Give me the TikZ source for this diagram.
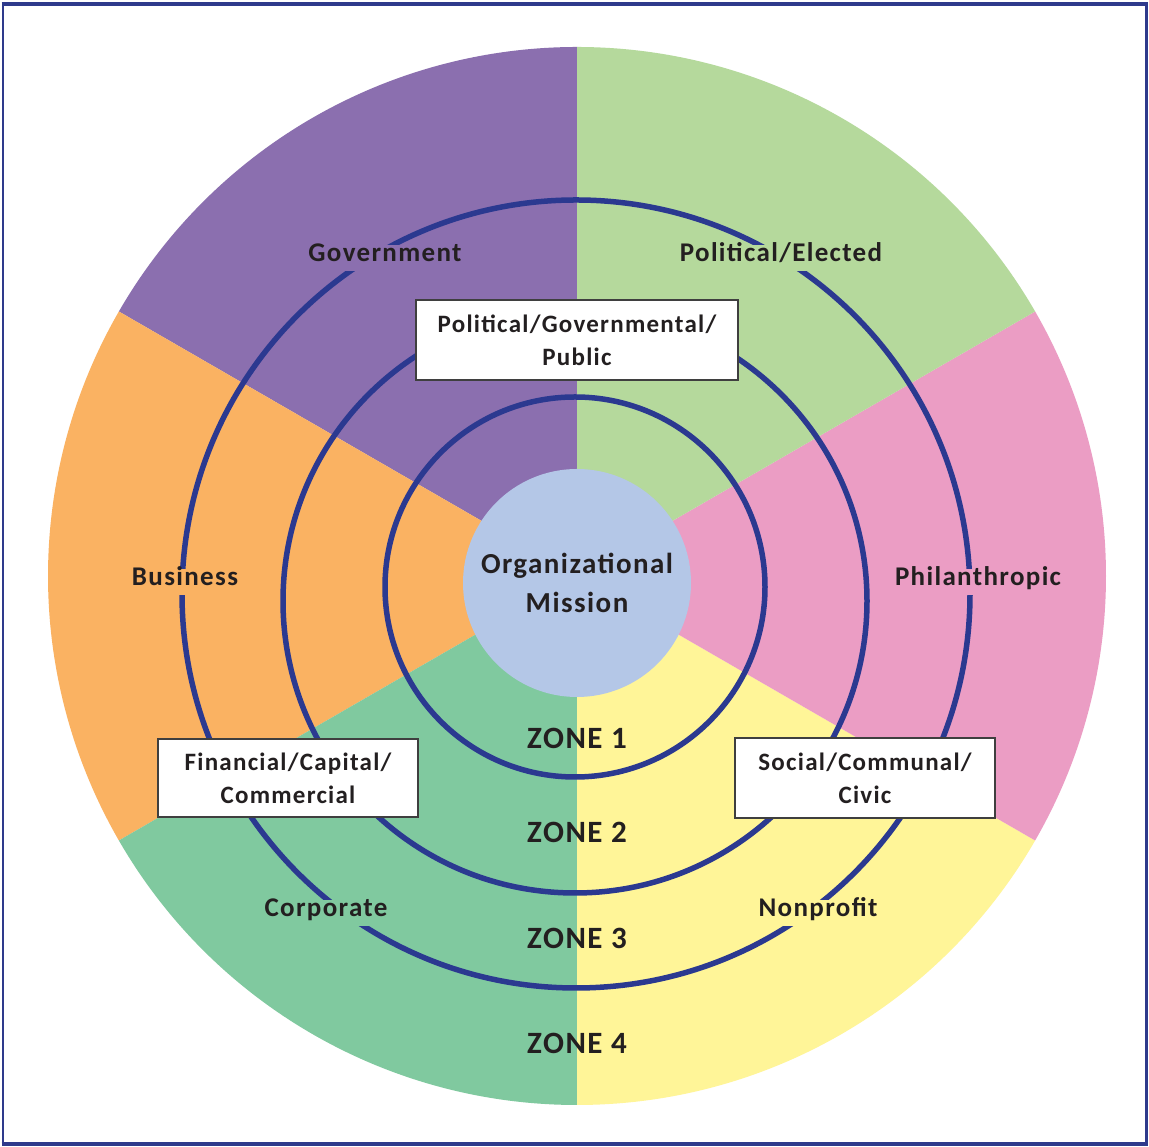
\documentclass[tikz,border=0pt]{standalone}
\usepackage{fontspec}
\setmainfont{Carlito}
\newfontfamily\labfont[LetterSpace=5]{Carlito}
\definecolor{cpurple}{HTML}{8B6FAF}
\definecolor{clgreen}{HTML}{B5D99C}
\definecolor{cpink}{HTML}{EB9DC4}
\definecolor{corange}{HTML}{FAB262}
\definecolor{cdgreen}{HTML}{80C99F}
\definecolor{cyellow}{HTML}{FFF598}
\definecolor{cblue}{HTML}{B4C7E7}
\definecolor{cring}{HTML}{2B3990}
\definecolor{cframe}{HTML}{2E3A8C}
\definecolor{ctext}{HTML}{231F20}
\definecolor{cbox}{HTML}{3F3F3F}
\begin{document}
\begin{tikzpicture}[x=1pt,y=1pt,
  ring/.style={draw=cring, line width=5.5pt},
  lab/.style={text=ctext, font=\labfont\bfseries\fontsize{27}{32}\selectfont, inner xsep=6pt, inner ysep=8pt, text height=0.8em, text depth=0.16em},
  box/.style={draw=cbox, line width=1.5pt, fill=white, align=center, text=ctext, font=\labfont\bfseries\fontsize{25}{33}\selectfont, inner sep=0pt},
  zone/.style={text=ctext, font=\labfont\bfseries\fontsize{31}{36}\selectfont, inner sep=0pt}]
\useasboundingbox (0,0) rectangle (1149,1147);
\fill[white] (0,0) rectangle (1149,1147);
\coordinate (C) at (577,571);
% sectors
\fill[cpurple] (C) -- ++(90:529) arc[start angle=90,end angle=150,radius=529] -- cycle;
\fill[corange] (C) -- ++(150:529) arc[start angle=150,end angle=210,radius=529] -- cycle;
\fill[cdgreen] (C) -- ++(210:529) arc[start angle=210,end angle=270,radius=529] -- cycle;
\fill[cyellow] (C) -- ++(270:529) arc[start angle=270,end angle=330,radius=529] -- cycle;
\fill[cpink] (C) -- ++(-30:529) arc[start angle=-30,end angle=30,radius=529] -- cycle;
\fill[clgreen] (C) -- ++(30:529) arc[start angle=30,end angle=90,radius=529] -- cycle;
% rings
\draw[ring] (575,560) circle[radius=190];
\draw[ring] (575,546) circle[radius=292];
\draw[ring] (576,553) circle[radius=394];
% ring labels
\node[lab, fill=cpurple] (gov) at (385,889) {Government};
\node[lab, fill=clgreen] (pol) at (781,889) {Political/Elected};
\node[lab, fill=corange] (bus) at (185,565) {Business};
\node[lab, fill=cpink] (phi) at (978,565) {Philanthropic};
\node[lab, fill=cdgreen] (cor) at (326,234) {Corporate};
\node[lab, fill=cyellow] (non) at (818,234) {Nonprofit};
% center
\node[circle, fill=cblue, minimum size=228pt, inner sep=0pt, align=center, text=ctext,
  font=\labfont\bfseries\fontsize{29}{39}\selectfont] (mission) at (577,564) {Organizational\\Mission};
% boxes
\node[box, minimum width=322pt, minimum height=80pt] (pgp) at (577,807) {Political/Governmental/\\Public};
\node[box, minimum width=260pt, minimum height=78pt] (fcc) at (288,369) {Financial/Capital/\\Commercial};
\node[box, minimum width=260pt, minimum height=80pt] (scc) at (865,369) {Social/Communal/\\Civic};
% zones
\node[zone] (z1) at (577,409) {ZONE 1};
\node[zone] (z2) at (577,315) {ZONE 2};
\node[zone] (z3) at (577,209) {ZONE 3};
\node[zone] (z4) at (577,104) {ZONE 4};
% frame
\draw[cframe, line width=2.5pt] (3,2.5) rectangle (1146.5,1142.5);
\draw[cframe, line width=4pt] (1.5,1142.5) -- (1148,1142.5);
\draw[cframe, line width=4pt] (1.5,2.5) -- (1148,2.5);
\end{tikzpicture}
\end{document}
